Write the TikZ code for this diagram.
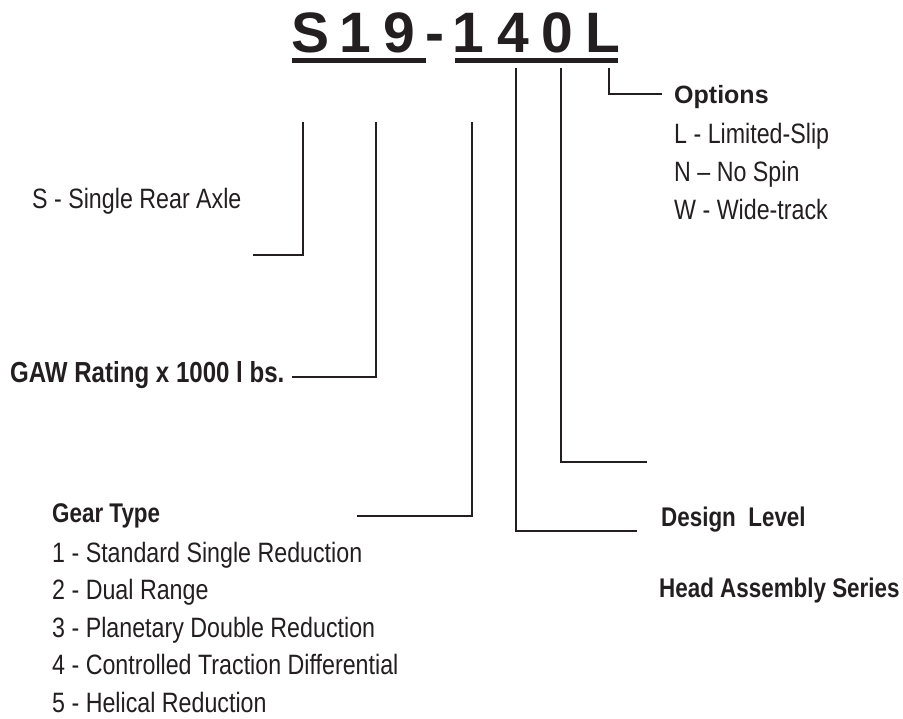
\documentclass[tikz,border=0pt]{standalone}
\usepackage{fontspec}
\setmainfont{Liberation Sans}
\newfontfamily\narrowsf[FakeStretch=0.83]{Liberation Sans}
\usetikzlibrary{positioning,calc}
\definecolor{inkdark}{RGB}{35,31,32}

\begin{document}
\begin{tikzpicture}[x=1pt,y=-1pt,
  leader/.style={draw=inkdark,line width=1.3pt},
  bar/.style={fill=inkdark,draw=none},
  lbl/.style={inner sep=0pt,anchor=base west,text=inkdark,
    font=\narrowsf\fontsize{28}{30}\selectfont},
  headlbl/.style={lbl,font=\narrowsf\bfseries\fontsize{27}{30}\selectfont},
  codechar/.style={inner sep=0pt,anchor=base,text=inkdark,
    font=\bfseries\fontsize{57}{60}\selectfont}]
  \useasboundingbox (0,0) rectangle (903,719);
  % Model code, one letter at a time
  \foreach \c/\x [count=\i] in {S/311,1/355,9/399,-/435,1/468,4/513,0/557,L/603}
    \node (code-\i) [codechar] at (\x,53) {\c};
  \fill[bar] (292,58) rectangle (426,63);
  \fill[bar] (455,58) rectangle (618,63);
  % Leader end points
  \coordinate (axle-top) at (303,122);  \coordinate (axle-end) at (253,255);
  \coordinate (gaw-top) at (376,122);   \coordinate (gaw-end) at (292,377);
  \coordinate (gear-top) at (472,122);  \coordinate (gear-end) at (357,516);
  \coordinate (design-top) at (516,68); \coordinate (design-end) at (637,531);
  \coordinate (head-top) at (561,68);   \coordinate (head-end) at (647,462);
  \coordinate (opt-top) at (609,68);    \coordinate (opt-end) at (662,94);
  % Leaders
  \draw[leader] (axle-top) |- (axle-end);
  \draw[leader] (gaw-top) |- (gaw-end);
  \draw[leader] (gear-top) |- (gear-end);
  \draw[leader] (design-top) |- (design-end);
  \draw[leader] (head-top) |- (head-end);
  \draw[leader] (opt-top) |- (opt-end);
  % Left labels
  \node (axle) [lbl] at (32,209) {S - Single Rear Axle};
  \node (gaw) [headlbl,font=\narrowsf\bfseries\fontsize{29}{30}\selectfont]
    at (10,383) {GAW Rating x 1000 l bs.};
  \node (gear) [headlbl] at (52,522) {Gear Type};
  \foreach \t [count=\i] in {Standard Single Reduction,Dual Range,
      Planetary Double Reduction,Controlled Traction Differential,
      Helical Reduction}
    \node (gear-\i) [lbl] at (52,562+37.5*\i-37.5) {\i\ - \t};
  % Right labels
  \node (opt) [headlbl,font=\bfseries\fontsize{25}{30}\selectfont] at (674,104) {Options};
  \node (opt-l) [lbl] at (674,144) {L - Limited-Slip};
  \node (opt-n) [lbl] at (674,182) {N – No Spin};
  \node (opt-w) [lbl] at (674,220) {W - Wide-track};
  \node (design) [headlbl] at (661,526) {Design\ \ Level};
  \node (head) [headlbl] at (659,597) {Head Assembly Series};
\end{tikzpicture}
\end{document}
